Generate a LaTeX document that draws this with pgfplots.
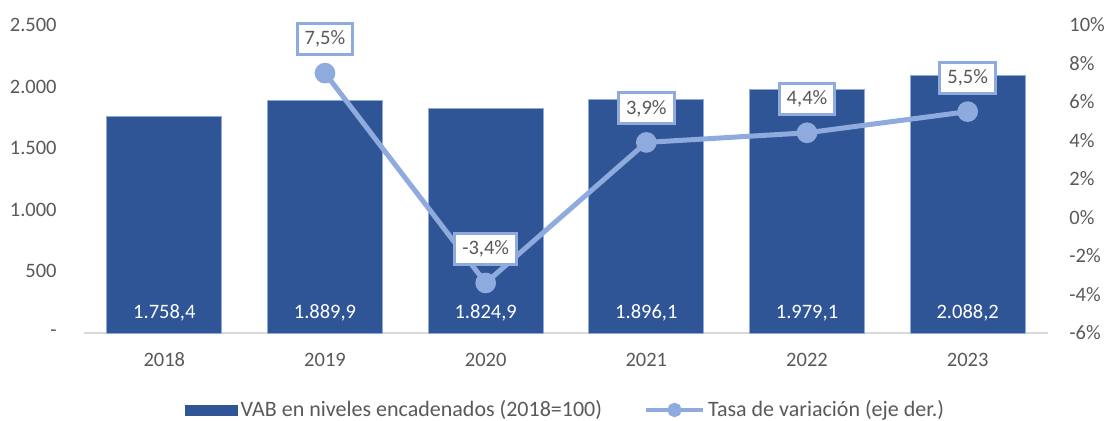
\documentclass[border=0pt]{standalone}
\usepackage{fontspec}
\setmainfont{Carlito}
\usepackage{pgfplots}
\pgfplotsset{compat=1.18}
\definecolor{barblue}{HTML}{2F5597}
\definecolor{lineblue}{HTML}{8FAADC}
\definecolor{txtgray}{HTML}{595959}
\definecolor{axgray}{HTML}{D9D9D9}
\begin{document}
\fontsize{10.25}{12.3}\selectfont
\begin{tikzpicture}
\useasboundingbox (-42pt,-44pt) rectangle (511.5pt,166.5pt);
\begin{axis}[
  at={(0,0)}, anchor=south west,
  scale only axis, width=482pt, height=154pt,
  xmin=-0.5, xmax=5.5, ymin=0, ymax=2500,
  axis x line*=bottom, axis y line*=left,
  x axis line style={draw=axgray, line width=0.8pt, -},
  y axis line style={draw=none},
  xtick={0,1,2,3,4,5}, xticklabels={2018,2019,2020,2021,2022,2023},
  ytick={0,500,1000,1500,2000,2500},
  yticklabels={-\hspace{4pt},500,1.000,1.500,2.000,2.500},
  major tick length=0pt,
  tick style={draw=none},
  tick label style={text=txtgray, inner sep=0pt},
  xticklabel style={anchor=base, yshift=-16.75pt},
  yticklabel style={anchor=east, xshift=-13.5pt},
  /pgf/number format/assume math mode=true,
  clip=false,
]
\addplot[ybar, bar width=57.5pt, fill=barblue, draw=lineblue, line width=0.4pt]
  coordinates {(0,1758.4) (1,1889.9) (2,1824.9) (3,1896.1) (4,1979.1) (5,2088.2)};
\addplot[draw=none, mark=none, nodes near coords, point meta=explicit symbolic,
  nodes near coords align=center,
  every node near coord/.append style={text=white, anchor=base, inner sep=0pt}]
  table[meta=lab] {
x y lab
0 118 1.758,4
1 118 1.889,9
2 118 1.824,9
3 118 1.896,1
4 118 1.979,1
5 118 2.088,2
};
\end{axis}
\begin{axis}[
  at={(0,0)}, anchor=south west,
  scale only axis, width=482pt, height=154pt,
  xmin=-0.5, xmax=5.5, ymin=-6, ymax=10,
  axis x line=none, axis y line*=right,
  y axis line style={draw=none},
  ytick={-6,-4,-2,0,2,4,6,8,10},
  yticklabels={-6\%,-4\%,-2\%,0\%,2\%,4\%,6\%,8\%,10\%},
  major tick length=0pt, tick style={draw=none},
  tick label style={text=txtgray, inner sep=0pt},
  yticklabel style={anchor=west, xshift=10.5pt},
  clip=false,
  legend style={at={(0.5,-0.25)}, anchor=center, draw=none, fill=none,
    legend columns=2,
    /tikz/every odd column/.append style={column sep=0pt},
    /tikz/every even column/.append style={column sep=19.5pt},
    inner sep=0pt, nodes={inner sep=1.5pt, text=txtgray, font=\fontsize{11}{13}\selectfont}},
  legend cell align=left,
]
\addlegendimage{legend image code/.code={\fill[barblue] (0pt,-2.5pt) rectangle (26pt,2.5pt);}}
\addlegendentry{VAB en niveles encadenados (2018=100)}
\addplot[lineblue, line width=2.5pt, mark=*, mark size=3.9pt,
  mark options={draw=none, fill=lineblue},
  nodes near coords={\pgfplotspointmeta\%}, point meta=explicit symbolic,
  nodes near coords align=center,
  every node near coord/.append style={draw=lineblue, line width=1.5pt, fill=white,
    text=txtgray, anchor=center, yshift=17pt, inner xsep=3.85pt, inner ysep=0pt,
    minimum height=15.5pt},
  legend image code/.code={\draw[lineblue, line width=2pt] (0pt,0pt) -- (28.5pt,0pt);
    \fill[lineblue] (14.25pt,0pt) circle (2.3pt);}]
  table[meta=lab] {
x y lab
1 7.5 7,5
2 -3.4 -3,4
3 3.9 3,9
4 4.4 4,4
5 5.5 5,5
};
\addlegendentry{Tasa de variación (eje der.)}
\end{axis}
\end{tikzpicture}
\end{document}
